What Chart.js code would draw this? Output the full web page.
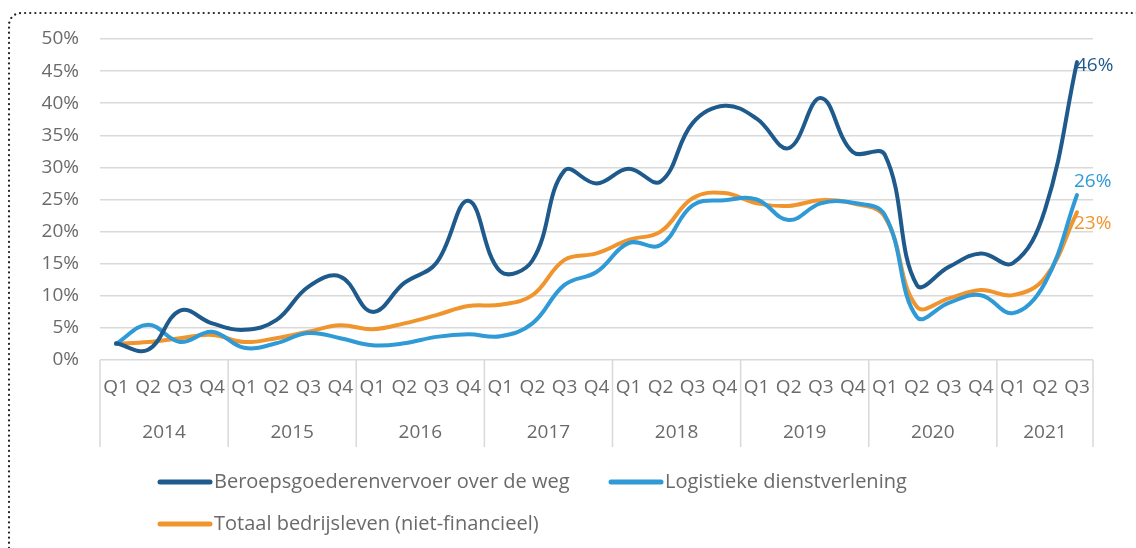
<!DOCTYPE html>
<html>
<head>
<meta charset="utf-8">
<script src="https://cdn.jsdelivr.net/npm/chart.js@4.4.0/dist/chart.umd.min.js"></script>
<style>
  html, body { margin: 0; padding: 0; background: #fff; }
  #wrap { width: 1136px; height: 548px; position: relative; }
</style>
</head>
<body>
<div id="wrap"><canvas id="chart" width="1136" height="548"></canvas></div>
<script>
const quarters = ['Q1','Q2','Q3','Q4','Q1','Q2','Q3','Q4','Q1','Q2','Q3','Q4','Q1','Q2','Q3','Q4',
                  'Q1','Q2','Q3','Q4','Q1','Q2','Q3','Q4','Q1','Q2','Q3','Q4','Q1','Q2','Q3'];
const years = ['2014','2015','2016','2017','2018','2019','2020','2021'];
const quartersPerYear = [4, 4, 4, 4, 4, 4, 4, 3];

const beroeps = [2.6, 1.6, 7.7, 5.7, 4.7, 6.2, 11.4, 13.0, 7.5, 12.0, 15.1, 24.8,
                 13.8, 15.5, 29.5, 27.5, 29.8, 27.8, 36.9, 39.6, 37.6, 33.0, 40.8, 32.4,
                 32.0, 11.7, 14.5, 16.6, 15.1, 23.4, 46.4];
const logistiek = [2.5, 5.5, 2.8, 4.4, 1.9, 2.6, 4.2, 3.4, 2.3, 2.6, 3.6, 4.0,
                   3.7, 5.7, 11.7, 13.7, 18.2, 17.9, 24.1, 24.9, 25.0, 21.8, 24.4, 24.5,
                   22.6, 6.7, 8.9, 10.1, 7.3, 12.0, 25.7];
const totaal = [2.5, 2.8, 3.4, 3.9, 2.8, 3.4, 4.4, 5.4, 4.8, 5.7, 7.0, 8.4,
                8.6, 10.1, 15.6, 16.6, 18.7, 20.0, 25.2, 26.0, 24.4, 24.0, 24.9, 24.4,
                22.3, 8.3, 9.6, 10.9, 10.1, 12.8, 23.0];
const seriesNames = ['Beroepsgoederenvervoer over de weg', 'Logistieke dienstverlening', 'Totaal bedrijsleven (niet-financieel)'];
const yTicks = [0, 5, 10, 15, 20, 25, 30, 35, 40, 45, 50];

const colors = ['#1f5a8c', '#2f9ad6', '#f0952e'];
const FONT = '"Open Sans", "Noto Sans", sans-serif';
const GREY = '#6a6a6a';

const frame = {
  id: 'frame',
  afterDraw(chart) {
    const ctx = chart.ctx;
    const x = chart.scales.x;
    const area = chart.chartArea;
    const half = (x.getPixelForValue(1) - x.getPixelForValue(0)) / 2;
    ctx.save();
    // year separators and labels
    ctx.strokeStyle = '#d9d9d9';
    ctx.lineWidth = 1.5;
    ctx.font = '19px ' + FONT;
    ctx.fillStyle = GREY;
    ctx.textAlign = 'center';
    ctx.textBaseline = 'middle';
    let idx = 0;
    const drawSep = px => {
      ctx.beginPath(); ctx.moveTo(px, area.bottom); ctx.lineTo(px, area.bottom + 87); ctx.stroke();
    };
    drawSep(x.getPixelForValue(0) - half);
    years.forEach((yr, k) => {
      const start = x.getPixelForValue(idx) - half;
      idx += quartersPerYear[k];
      const end = x.getPixelForValue(idx - 1) + half;
      drawSep(end);
      ctx.fillText(yr, (start + end) / 2, area.bottom + 73);
    });
    // end labels
    const offs = [[-1, 3], [-3, -13], [-3, 11]];
    chart.data.datasets.forEach((ds, i) => {
      const meta = chart.getDatasetMeta(i);
      const p = meta.data[meta.data.length - 1];
      ctx.fillStyle = ds.borderColor;
      ctx.textAlign = 'left';
      ctx.fillText(Math.round(ds.data[ds.data.length - 1]) + '%', p.x + offs[i][0], p.y + offs[i][1]);
    });
    // legend
    ctx.font = '20px ' + FONT;
    const items = [[160, 482], [611, 482], [160, 524]];
    chart.data.datasets.forEach((ds, i) => {
      const [lx, ly] = items[i];
      ctx.strokeStyle = ds.borderColor;
      ctx.lineWidth = 5;
      ctx.lineCap = 'round';
      ctx.beginPath(); ctx.moveTo(lx, ly); ctx.lineTo(lx + 50, ly); ctx.stroke();
      ctx.fillStyle = GREY;
      ctx.textAlign = 'left';
      ctx.fillText(ds.label, lx + 54, ly);
    });
    // dotted frame
    ctx.strokeStyle = '#222';
    ctx.lineWidth = 2.2;
    ctx.lineCap = 'round';
    ctx.setLineDash([0.1, 5]);
    const r = 12, fx = 9, fy = 13;
    ctx.beginPath();
    ctx.moveTo(fx, chart.height + 5);
    ctx.lineTo(fx, fy + r);
    ctx.arcTo(fx, fy, fx + r, fy, r);
    ctx.lineTo(chart.width + 5, fy);
    ctx.stroke();
    ctx.restore();
  }
};

const ds = (label, data, color) => ({
  label, data, borderColor: color, backgroundColor: color,
  borderWidth: 4, pointRadius: 0, tension: 0.4, fill: false,
  borderCapStyle: 'round', borderJoinStyle: 'round'
});

new Chart(document.getElementById('chart'), {
  type: 'line',
  data: {
    labels: quarters,
    datasets: [
      ds(seriesNames[0], beroeps, colors[0]),
      ds(seriesNames[1], logistiek, colors[1]),
      ds(seriesNames[2], totaal, colors[2])
    ]
  },
  options: {
    responsive: false,
    animation: false,
    devicePixelRatio: 1,
    layout: { padding: { left: 0, right: 43, top: 39, bottom: 100 } },
    plugins: { legend: { display: false }, tooltip: { enabled: false } },
    scales: {
      x: {
        offset: true,
        grid: { display: false, drawTicks: false },
        border: { display: false },
        ticks: { color: GREY, font: { family: FONT, size: 19 }, padding: 16, maxRotation: 0, autoSkip: false },
        afterFit(s) { s.height = 88; }
      },
      y: {
        min: 0, max: 50,
        afterBuildTicks(s) { s.ticks = yTicks.map(v => ({ value: v })); },
        grid: { color: '#d9d9d9', lineWidth: 1.5, drawTicks: false },
        border: { display: false },
        ticks: { color: GREY, font: { family: FONT, size: 19 }, padding: 21, callback: v => v + '%' },
        afterFit(s) { s.width = 100; }
      }
    }
  },
  plugins: [frame]
});
</script>
</body>
</html>
